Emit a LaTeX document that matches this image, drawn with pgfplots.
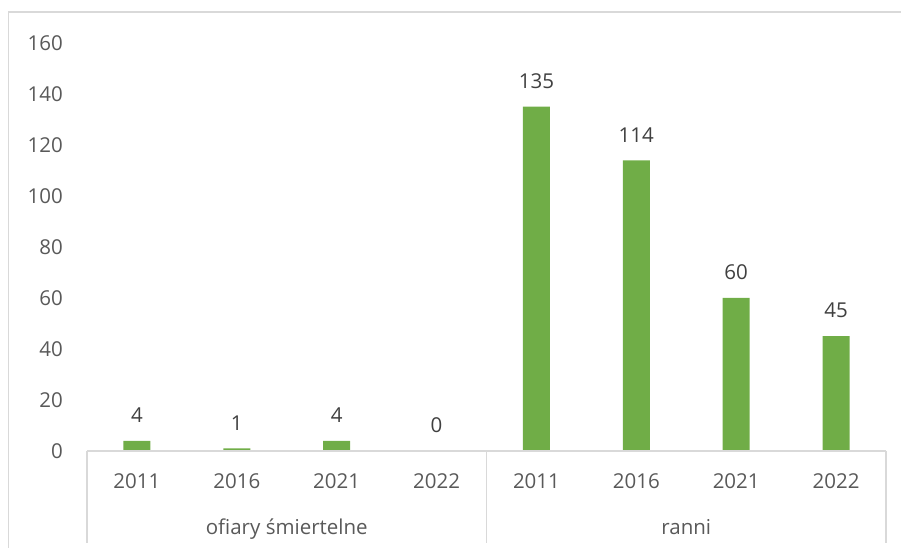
\documentclass[border=0pt]{standalone}
\usepackage{pgfplots}
\pgfplotsset{compat=1.18}
\usepackage{fontspec}
\setmainfont{Open Sans}
\definecolor{barg}{HTML}{70AD47}
\definecolor{axgray}{HTML}{D9D9D9}
\definecolor{lblgray}{HTML}{595959}
\definecolor{valgray}{HTML}{404040}
\begin{document}
\begin{tikzpicture}[x=1pt,y=1pt]
\useasboundingbox (0,0) rectangle (901,548);
\draw[axgray, line width=1.2pt] (8.5,-10) -- (8.5,536) -- (910,536);
\begin{axis}[
  at={(87pt,97pt)}, anchor=south west,
  scale only axis, width=799pt, height=408pt,
  xmin=-0.5, xmax=7.5, ymin=0, ymax=160,
  enlargelimits=false, clip=false, axis on top,
  xtick={0,...,7},
  xticklabels={2011,2016,2021,2022,2011,2016,2021,2022},
  ytick={0,20,...,160},
  axis x line*=bottom, axis y line*=left,
  x axis line style={axgray, line width=2pt, -},
  y axis line style={draw=none},
  major tick length=0pt,
  tick label style={font=\fontsize{20.5}{24}\selectfont, text=lblgray, inner sep=0pt},
  xticklabel style={anchor=base, yshift=-37.5pt},
  yticklabel style={anchor=east, xshift=-24pt},
  /pgf/number format/assume math mode=true,
  ybar, bar width=27pt,
  nodes near coords,
  every node near coord/.append style={font=\fontsize{20.5}{24}\selectfont, text=valgray, inner sep=0pt, anchor=south, yshift=18pt},
]
\addplot[fill=barg, draw=none] coordinates {(0,4) (1,1) (2,4) (3,0) (4,135) (5,114) (6,60) (7,45)};
\draw[axgray, line width=1.2pt] (axis cs:-0.5,0) -- ([yshift=-92pt]axis cs:-0.5,0);
\draw[axgray, line width=1.2pt] (axis cs:3.5,0) -- ([yshift=-92pt]axis cs:3.5,0);
\draw[axgray, line width=1.2pt] (axis cs:7.5,0) -- ([yshift=-92pt]axis cs:7.5,0);
\node[anchor=base, font=\fontsize{20.5}{24}\selectfont, text=lblgray, inner sep=0pt] at ([yshift=-83pt]axis cs:1.5,0) {ofiary śmiertelne};
\node[anchor=base, font=\fontsize{20.5}{24}\selectfont, text=lblgray, inner sep=0pt] at ([yshift=-83pt]axis cs:5.5,0) {ranni};
\end{axis}
\end{tikzpicture}
\end{document}
